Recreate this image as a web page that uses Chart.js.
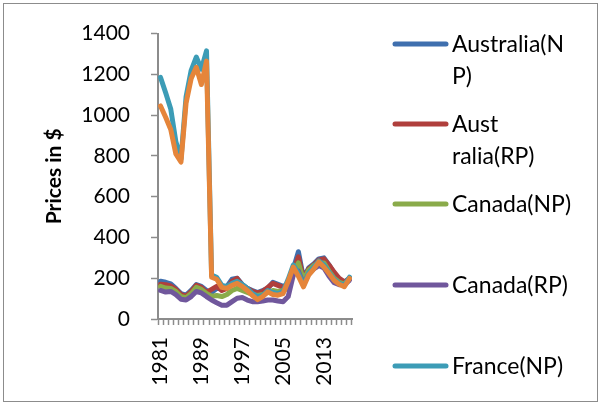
<!DOCTYPE html>
<html>
<head>
<meta charset="utf-8">
<script src="https://cdn.jsdelivr.net/npm/chart.js@4.4.1/dist/chart.umd.min.js"></script>
<style>
    html, body { margin: 0; padding: 0; background: #fff; }
    #wrap { position: relative; width: 602px; height: 405px; }
    #frame { position: absolute; left: 3px; top: 3px; width: 595px; height: 399px; border: 1px solid #8c8c8c; box-sizing: border-box; pointer-events: none; }
</style>
</head>
<body>
<div id="wrap">
    <canvas id="priceChart" width="602" height="405"></canvas>
    <div id="frame"></div>
</div>
<script>
// categories
const years = ['1981', '1982', '1983', '1984', '1985', '1986', '1987', '1988', '1989', '1990',
    '1991', '1992', '1993', '1994', '1995', '1996', '1997', '1998', '1999', '2000',
    '2001', '2002', '2003', '2004', '2005', '2006', '2007', '2008', '2009', '2010',
    '2011', '2012', '2013', '2014', '2015', '2016', '2017', '2018'];

// series values
const australiaNP = [185, 180, 172, 150, 125, 117, 140, 169, 160, 140, 130, 150, 150, 160, 195, 200, 170, 150, 140, 130,
    140, 150, 180, 170, 160, 170, 245, 330, 200, 250, 270, 295, 300, 265, 225, 195, 180, 200];
const australiaRP = [170, 168, 162, 145, 120, 112, 135, 165, 155, 130, 145, 160, 140, 150, 185, 199, 165, 150, 135, 128,
    135, 155, 175, 165, 155, 165, 235, 305, 195, 245, 265, 290, 295, 265, 230, 200, 182, 195];
const canadaNP = [160, 152, 150, 135, 110, 105, 125, 155, 145, 125, 112, 115, 110, 120, 140, 150, 140, 130, 120, 115,
    120, 130, 140, 135, 140, 150, 230, 275, 190, 240, 262, 275, 275, 235, 200, 180, 172, 195];
const canadaRP = [140, 132, 135, 120, 97, 93, 110, 135, 128, 110, 93, 80, 68, 68, 85, 102, 105, 93, 85, 85,
    88, 93, 93, 88, 85, 110, 215, 235, 170, 220, 245, 262, 250, 210, 178, 168, 168, 190];
const franceNP = [1185, 1110, 1030, 870, 785, 1090, 1220, 1285, 1225, 1315, 215, 205, 165, 160, 175, 185, 170, 150, 125, 110,
    115, 140, 130, 125, 135, 195, 265, 225, 165, 225, 255, 285, 265, 230, 195, 175, 165, 205];
const franceRP = [1045, 990, 930, 810, 770, 1060, 1180, 1235, 1150, 1265, 205, 195, 155, 150, 165, 175, 160, 140, 115, 95,
    110, 133, 120, 117, 125, 185, 255, 210, 158, 215, 245, 280, 255, 223, 190, 170, 158, 199];

// tick values
const yTicks = [0, 200, 400, 600, 800, 1000, 1200, 1400];
const xLabelEvery = 8;

// legend text, wrapped as in the picture (last series is cut off there)
const legendRows = [
    ['Australia(N', 'P)'],
    ['Aust', 'ralia(RP)'],
    ['Canada(NP)'],
    ['Canada(RP)'],
    ['France(NP)']
];

const seriesNames = ['Australia(NP)', 'Australia(RP)', 'Canada(NP)', 'Canada(RP)', 'France(NP)', 'France(RP)'];
const seriesData = [australiaNP, australiaRP, canadaNP, canadaRP, franceNP, franceRP];
const seriesColors = ['#3f6fae', '#b03f3c', '#8aab4a', '#70579c', '#3c9cb6', '#e5853a'];

const axisGray = '#8c8c8c';

// draws the legend on the right, the way the picture has it
const sideLegend = {
    id: 'sideLegend',
    afterDraw(chart) {
        const ctx = chart.ctx;
        const rowY = [44, 124, 204, 285, 366];
        ctx.save();
        ctx.font = "23px Lato";
        ctx.textBaseline = 'middle';
        ctx.fillStyle = '#000';
        legendRows.forEach((lines, i) => {
            ctx.strokeStyle = seriesColors[i];
            ctx.lineWidth = 5;
            ctx.lineCap = 'round';
            ctx.beginPath();
            ctx.moveTo(395, rowY[i]);
            ctx.lineTo(446, rowY[i]);
            ctx.stroke();
            lines.forEach((t, j) => {
                ctx.fillText(t, 452, rowY[i] + 1 + j * 32);
            });
        });
        ctx.restore();
    }
};

const ctx = document.getElementById('priceChart');

new Chart(ctx, {
    type: 'line',
    data: {
        labels: years,
        datasets: seriesData.map((d, i) => ({
            label: seriesNames[i],
            data: d,
            borderColor: seriesColors[i],
            backgroundColor: seriesColors[i],
            borderWidth: 5,
            borderJoinStyle: 'round',
            borderCapStyle: 'round',
            pointRadius: 0,
            tension: 0,
            order: seriesData.length - i
        }))
    },
    options: {
        responsive: false,
        animation: false,
        layout: {
            padding: { top: 32, right: 250, left: 0, bottom: 0 }
        },
        plugins: {
            legend: { display: false },
            tooltip: { enabled: false }
        },
        scales: {
            x: {
                type: 'category',
                offset: true,
                grid: {
                    offset: true,
                    drawOnChartArea: false,
                    drawTicks: true,
                    tickLength: 6,
                    color: axisGray,
                    tickColor: axisGray,
                    tickWidth: 1.5
                },
                border: { color: axisGray, width: 2 },
                ticks: {
                    autoSkip: false,
                    maxRotation: 90,
                    minRotation: 90,
                    padding: 12,
                    color: '#000',
                    font: { family: 'Lato', size: 21 },
                    callback: function (value, index) {
                        return index % xLabelEvery === 0 ? years[index] : '';
                    }
                },
                afterFit: function (scale) {
                    scale.height = 86;
                }
            },
            y: {
                min: 0,
                max: 1400,
                afterBuildTicks: function (scale) {
                    scale.ticks = yTicks.map(v => ({ value: v }));
                },
                grid: {
                    drawOnChartArea: false,
                    drawTicks: true,
                    tickLength: 7,
                    color: axisGray,
                    tickColor: axisGray,
                    tickWidth: 1.5
                },
                border: { color: axisGray, width: 2 },
                ticks: {
                    padding: 21,
                    color: '#000',
                    font: { family: 'Lato', size: 21 },
                    callback: function (value) {
                        return String(value);
                    }
                },
                title: {
                    display: true,
                    text: 'Prices in $',
                    color: '#000',
                    font: { family: 'Lato', size: 21, weight: 'bold' },
                    padding: { top: 42, bottom: 0 }
                },
                afterFit: function (scale) {
                    scale.width = 158;
                }
            }
        }
    },
    plugins: [sideLegend]
});
</script>
</body>
</html>
